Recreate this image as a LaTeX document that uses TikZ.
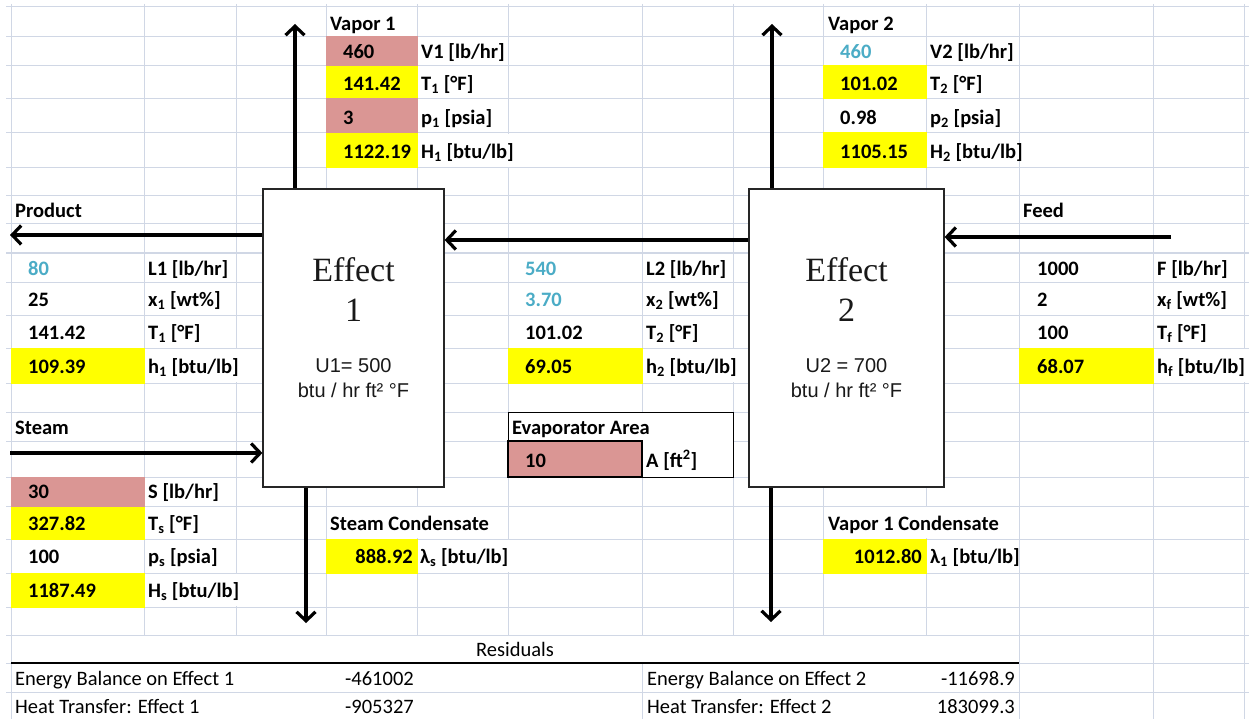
\documentclass[tikz,border=0pt]{standalone}
\usepackage{fontspec}
\setmainfont{Carlito}
\newfontfamily\boxserif{Liberation Serif}
\newfontfamily\boxsans{Liberation Sans}
\usetikzlibrary{arrows.meta}
\definecolor{gridblue}{RGB}{208,215,229}
\definecolor{cellyellow}{RGB}{255,255,0}
\definecolor{cellpink}{RGB}{218,150,148}
\definecolor{inblue}{RGB}{75,172,198}
\newcommand{\cellfont}{\fontsize{20.5}{24}\selectfont\bfseries}
\newcommand{\plainfont}{\fontsize{20.5}{24}\selectfont}

\tikzset{
  gridline/.style={draw=gridblue, line width=1pt},
  lbl/.style={anchor=west, inner sep=0pt, font=\cellfont, text height=13pt, text depth=0pt},
  rval/.style={lbl, anchor=east},
  inval/.style={lbl, text=inblue},
  plain/.style={lbl, font=\plainfont},
  rplain/.style={plain, anchor=east},
  effbox/.style={draw=black!85, fill=white, line width=1.2pt, inner sep=0pt, minimum height=298pt},
  efftitle/.style={align=center, inner sep=0pt, text=black!90, font=\boxserif\fontsize{34}{40}\selectfont},
  effcoef/.style={align=center, inner sep=0pt, text=black!90, font=\boxsans\fontsize{20}{25}\selectfont},
  flow/.style={->, line width=3.2pt}
}

\begin{document}
\begin{tikzpicture}[x=1pt,y=-1pt,>={Straight Barb[length=9pt,width=19pt]}]
\useasboundingbox (0,0) rectangle (1249,719);
\fill[white] (0,0) rectangle (1249,719);

% sheet grid
\foreach \gx in {11,144,236,326,417,508,642,733,823,926,1019,1153,1244}
  \draw[gridline] (\gx,4) -- (\gx,635);
\foreach \gx in {11,642,1019,1153,1244}
  \draw[gridline] (\gx,663) -- (\gx,719);
\foreach \gx in {1153,1244}
  \draw[gridline] (\gx,635) -- (\gx,663);
\draw[gridline] (11,635) -- (11,663);
\draw[gridline] (1019,635) -- (1019,663);
\foreach \gy in {7,37,66,99,133,168,196,224,253,282,315,348,383,412,441,477,506,539,573,607,635,663,692}
  \draw[gridline] (6,\gy) -- (1249,\gy);
\draw[line width=1.4pt] (11,663) -- (1019,663);

% cell fills
\foreach \xa/\ya/\xb/\yb in {326/66/417/99, 326/133/417/168, 823/66/926/99, 823/133/926/168,
  11/348/144/383, 508/348/642/383, 1019/348/1153/383, 11/506/144/539, 11/573/144/607,
  326/539/417/573, 823/539/926/573}
  \fill[cellyellow] (\xa-.5,\ya-.5) rectangle (\xb+.5,\yb+.5);
\foreach \xa/\ya/\xb/\yb in {326/37/417/66, 326/99/417/133, 11/477/144/506}
  \fill[cellpink] (\xa-.5,\ya-.5) rectangle (\xb+.5,\yb+.5);

% text running over the next cell
\foreach \gx/\ya/\yb in {508/133/168, 236/348/383, 733/348/383, 1244/348/383,
  417/506/539, 926/506/539, 236/573/607, 508/539/573}
  \draw[white, line width=2pt] (\gx,\ya+.6) -- (\gx,\yb-.6);

% evaporator area cells
\fill[white] (508,412) rectangle (733,477);
\draw[line width=1pt] (508,412) rectangle (733,477);
\draw[line width=2.2pt, fill=cellpink] (508,441) rectangle (642,477);

% effects
\node[effbox, minimum width=181pt] (eff1) at (353.5,338) {};
\node[effbox, minimum width=195pt] (eff2) at (846.5,338) {};
\node[efftitle] (eff1name) at (eff1.center |- 0,290) {Effect\\1};
\node[efftitle] (eff2name) at (eff2.center |- 0,290) {Effect\\2};
\node[effcoef] (eff1U) at (eff1.center |- 0,378) {U1= 500\\btu / hr ft² °F};
\node[effcoef] (eff2U) at (eff2.center |- 0,378) {U2 = 700\\btu / hr ft² °F};

% vapor 1
\node[lbl] (V1head) at (330,24) {Vapor 1};
\node[lbl] (V1val) at (343,52) {460};
\node[lbl] (V1lbl) at (421,52) {V1 [lb/hr]};
\node[lbl] (T1val) at (343,84) {141.42};
\node[lbl] (T1lbl) at (421,84) {T\textsubscript{1} [°F]};
\node[lbl] (p1val) at (343,118) {3};
\node[lbl] (p1lbl) at (421,118) {p\textsubscript{1} [psia]};
\node[lbl] (H1val) at (343,152) {1122.19};
\node[lbl] (H1lbl) at (421,152) {H\textsubscript{1} [btu/lb]};

% vapor 2
\node[lbl] (V2head) at (828,24) {Vapor 2};
\node[inval] (V2val) at (840,52) {460};
\node[lbl] (V2lbl) at (930,52) {V2 [lb/hr]};
\node[lbl] (T2val) at (840,84) {101.02};
\node[lbl] (T2lbl) at (930,84) {T\textsubscript{2} [°F]};
\node[lbl] (p2val) at (840,118) {0.98};
\node[lbl] (p2lbl) at (930,118) {p\textsubscript{2} [psia]};
\node[lbl] (H2val) at (840,152) {1105.15};
\node[lbl] (H2lbl) at (930,152) {H\textsubscript{2} [btu/lb]};

% product
\node[lbl] (prodhead) at (15,211) {Product};
\node[inval] (L1val) at (28,269) {80};
\node[lbl] (L1lbl) at (148,269) {L1 [lb/hr]};
\node[lbl] (x1val) at (28,300) {25};
\node[lbl] (x1lbl) at (148,300) {x\textsubscript{1} [wt\%]};
\node[lbl] (T1pval) at (28,333) {141.42};
\node[lbl] (T1plbl) at (148,333) {T\textsubscript{1} [°F]};
\node[lbl] (h1val) at (28,367) {109.39};
\node[lbl] (h1lbl) at (148,367) {h\textsubscript{1} [btu/lb]};

% liquor between effects
\node[inval] (L2val) at (525,269) {540};
\node[lbl] (L2lbl) at (646,269) {L2 [lb/hr]};
\node[inval] (x2val) at (525,300) {3.70};
\node[lbl] (x2lbl) at (646,300) {x\textsubscript{2} [wt\%]};
\node[lbl] (T2pval) at (525,333) {101.02};
\node[lbl] (T2plbl) at (646,333) {T\textsubscript{2} [°F]};
\node[lbl] (h2val) at (525,367) {69.05};
\node[lbl] (h2lbl) at (646,367) {h\textsubscript{2} [btu/lb]};

% feed
\node[lbl] (feedhead) at (1023,211) {Feed};
\node[lbl] (Fval) at (1037,269) {1000};
\node[lbl] (Flbl) at (1157,269) {F [lb/hr]};
\node[lbl] (xfval) at (1037,300) {2};
\node[lbl] (xflbl) at (1157,300) {x\textsubscript{f} [wt\%]};
\node[lbl] (Tfval) at (1037,333) {100};
\node[lbl] (Tflbl) at (1157,333) {T\textsubscript{f} [°F]};
\node[lbl] (hfval) at (1037,367) {68.07};
\node[lbl] (hflbl) at (1157,367) {h\textsubscript{f} [btu/lb]};

% steam
\node[lbl] (steamhead) at (15,428) {Steam};
\node[lbl] (Sval) at (28,492) {30};
\node[lbl] (Slbl) at (148,492) {S [lb/hr]};
\node[lbl] (Tsval) at (28,524) {327.82};
\node[lbl] (Tslbl) at (148,524) {T\textsubscript{s} [°F]};
\node[lbl] (psval) at (28,557) {100};
\node[lbl] (pslbl) at (148,557) {p\textsubscript{s} [psia]};
\node[lbl] (Hsval) at (28,591) {1187.49};
\node[lbl] (Hslbl) at (148,591) {H\textsubscript{s} [btu/lb]};

% area and condensates
\node[lbl] (areahead) at (512,428) {Evaporator Area};
\node[lbl] (Aval) at (525,461) {10};
\node[lbl] (Albl) at (646,461) {A [ft\textsuperscript{2}]};
\node[lbl] (schead) at (330,524) {Steam Condensate};
\node[rval] (lsval) at (413,557) {888.92};
\node[lbl] (lslbl) at (420,557) {λ\textsubscript{s} [btu/lb]};
\node[lbl] (vchead) at (828,524) {Vapor 1 Condensate};
\node[rval] (l1val) at (922,557) {1012.80};
\node[lbl] (l1lbl) at (930,557) {λ\textsubscript{1} [btu/lb]};

% residuals
\node[plain, anchor=center] (reshead) at (515,650) {Residuals};
\node[plain] (eb1lbl) at (15,679) {Energy Balance on Effect 1};
\node[rplain] (eb1val) at (414,679) {-461002};
\node[plain] (eb2lbl) at (647,679) {Energy Balance on Effect 2};
\node[rplain] (eb2val) at (1015,679) {-11698.9};
\node[plain] (ht1lbl) at (15,707) {Heat Transfer: Effect 1};
\node[rplain] (ht1val) at (414,707) {-905327};
\node[plain] (ht2lbl) at (647,707) {Heat Transfer: Effect 2};
\node[rplain] (ht2val) at (1015,707) {183099.3};

% streams
\coordinate (v1tip) at (295,24);
\coordinate (v2tip) at (772,24);
\coordinate (prodtip) at (10,235);
\coordinate (linkmid) at (600,240);
\coordinate (feedtail) at (1171,237);
\coordinate (steamtail) at (10,453);
\coordinate (sctip) at (306,623);
\coordinate (vctip) at (771,622);
\draw[flow] (eff1.north -| v1tip) -- (v1tip);
\draw[flow] (eff2.north -| v2tip) -- (v2tip);
\draw[flow] (eff1.west |- prodtip) -- (prodtip);
\draw[flow] (eff2.west |- linkmid) -- (eff1.east |- linkmid);
\draw[flow] (feedtail) -- (eff2.east |- feedtail);
\draw[flow] (steamtail) -- (eff1.west |- steamtail);
\draw[flow] (eff1.south -| sctip) -- (sctip);
\draw[flow] (eff2.south -| vctip) -- (vctip);
\end{tikzpicture}
\end{document}
